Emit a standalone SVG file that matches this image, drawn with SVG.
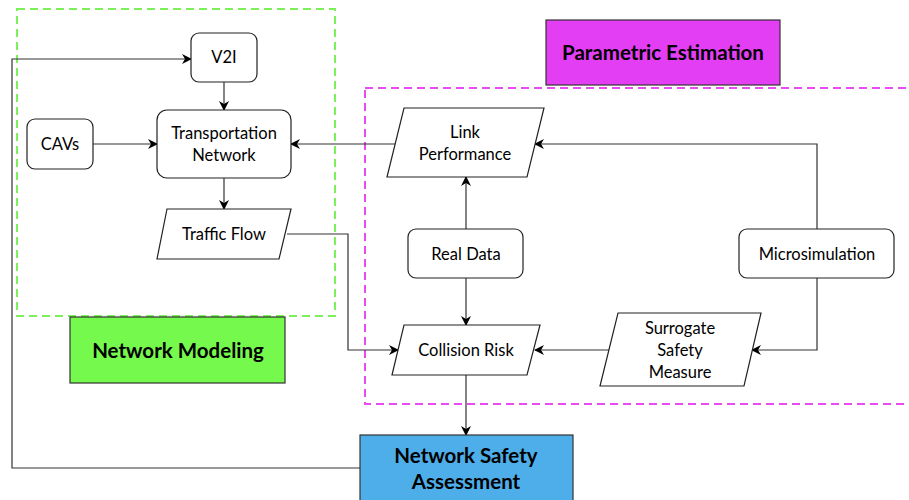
<svg xmlns="http://www.w3.org/2000/svg" width="909" height="500" viewBox="0 0 909 500">
<defs>
<style>
.n{fill:#fff;stroke:#222;stroke-width:1.2}
.t{font-family:Lato,"Open Sans","Liberation Sans",sans-serif;font-size:16.5px;fill:#000;text-anchor:middle}
.b{font-family:Lato,"Open Sans","Liberation Sans",sans-serif;font-size:20.5px;font-weight:bold;fill:#000;text-anchor:middle}
.c{fill:none;stroke:#333;stroke-width:1.2;marker-end:url(#a)}
</style>
<marker id="a" viewBox="0 0 10 10" refX="9" refY="5" markerWidth="10" markerHeight="10" markerUnits="userSpaceOnUse" orient="auto">
<path d="M0,0 L10,5 L0,10 L3,5 Z" fill="#000"/>
</marker>
</defs>
<rect width="909" height="500" fill="#fff"/>
<g id="groups">
<rect x="17" y="9" width="318" height="307" fill="none" stroke="#7CF05A" stroke-width="2" stroke-dasharray="8,5"/>
<rect x="365" y="88" width="560" height="316" fill="none" stroke="#E84BF0" stroke-width="2" stroke-dasharray="8,5"/>
</g>
<g id="connectors">
<path class="c" d="M224,82 V110"/>
<path class="c" d="M93,144 H157"/>
<path class="c" d="M224,178 V209"/>
<path class="c" d="M398,144 H291"/>
<path class="c" d="M287,234 H348 V350 H398"/>
<path class="c" d="M466,229 V177"/>
<path class="c" d="M817,229 V144 H535"/>
<path class="c" d="M466,278 V325"/>
<path class="c" d="M817,278 V350 H752"/>
<path class="c" d="M609,350 H535"/>
<path class="c" d="M466,375 V435"/>
<path class="c" d="M360,468 H12 V59 H191"/>
</g>
<g id="v2i"><rect class="n" x="191" y="33" width="66" height="49" rx="8"/><text class="t" x="224" y="63">V2I</text></g>
<g id="cavs"><rect class="n" x="27" y="119" width="66" height="50" rx="8"/><text class="t" x="60" y="150">CAVs</text></g>
<g id="transport"><rect class="n" x="157" y="110" width="134" height="68" rx="10"/><text class="t" x="224" y="139">Transportation</text><text class="t" x="224" y="161">Network</text></g>
<g id="trafficflow"><polygon class="n" points="167,209 291,209 279,259 157,259"/><text class="t" x="224" y="240">Traffic Flow</text></g>
<g id="netmodel"><rect x="70" y="317" width="215" height="66" fill="#75F94D" stroke="#333" stroke-width="1.2"/><text class="b" x="178" y="358">Network Modeling</text></g>
<g id="parametric"><rect x="546" y="20" width="234" height="65" fill="#E43EF5" stroke="#333" stroke-width="1.2"/><text class="b" x="663" y="60">Parametric Estimation</text></g>
<g id="link"><polygon class="n" points="404,108 544,108 527,177 387,177"/><text class="t" x="465" y="138">Link</text><text class="t" x="465" y="160">Performance</text></g>
<g id="realdata"><rect class="n" x="408" y="229" width="115" height="49" rx="8"/><text class="t" x="466" y="260">Real Data</text></g>
<g id="microsim"><rect class="n" x="739" y="229" width="155" height="49" rx="8"/><text class="t" x="817" y="260">Microsimulation</text></g>
<g id="collision"><polygon class="n" points="404,325 540,325 527,375 392,375"/><text class="t" x="466" y="356">Collision Risk</text></g>
<g id="ssm"><polygon class="n" points="618,313 761,313 744,386 600,386"/><text class="t" x="680" y="334">Surrogate</text><text class="t" x="680" y="356">Safety</text><text class="t" x="680" y="378">Measure</text></g>
<g id="nsa"><rect x="360" y="435" width="213" height="75" fill="#4DAEEA" stroke="#333" stroke-width="1.2"/><text class="b" x="466" y="463">Network Safety</text><text class="b" x="466" y="489">Assessment</text></g>
</svg>
